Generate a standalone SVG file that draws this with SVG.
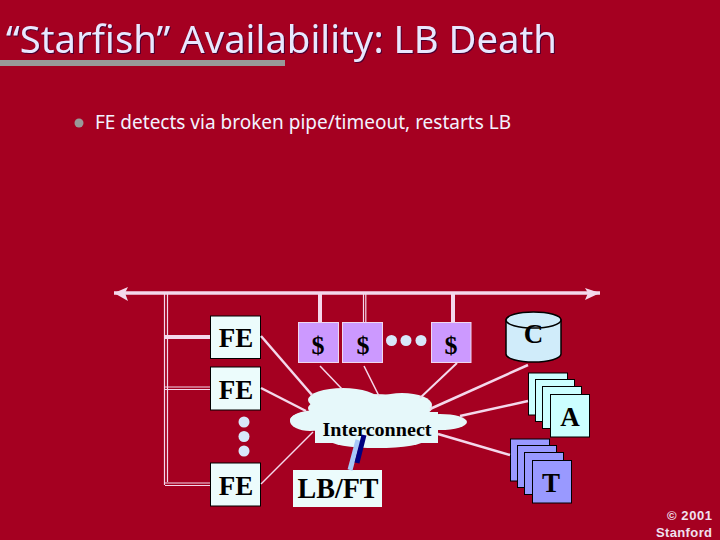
<svg xmlns="http://www.w3.org/2000/svg" width="720" height="540" viewBox="0 0 720 540">
<style>
.ttl{font-family:"Noto Sans","DejaVu Sans",sans-serif;font-size:39px;fill:#e8e8ff;filter:drop-shadow(1px 1px 0 #4a0030)}
.bul{font-family:"Noto Sans","DejaVu Sans",sans-serif;font-size:19px;fill:#f2f2ff}
.lab{font-family:"Liberation Serif",serif;font-weight:bold;fill:#000;text-anchor:middle}
.copy{font-family:"Liberation Sans",sans-serif;font-weight:bold;font-size:13px;fill:#f0e0f0}
.fe{fill:#ecfcfc;stroke:#000;stroke-width:1}
.lb{fill:#ecfcfc}
.ca{fill:#cc99ff;stroke:#f0d8f0;stroke-width:1}
.a{fill:#ccffff;stroke:#000;stroke-width:1}
.t{fill:#9999ff;stroke:#000;stroke-width:1}
.dot{fill:#d8e8fa}
.cl{fill:#e6f8fa}
.ln{stroke:#f4d8ec;fill:none}
</style>
<rect width="720" height="540" fill="#a50021"/>
<rect x="0" y="60" width="285" height="6" fill="#999999"/>
<text class="ttl" x="6" y="53" textLength="551" lengthAdjust="spacingAndGlyphs">“Starfish” Availability: LB Death</text>
<circle cx="79" cy="123" r="4.500" fill="#999999"/>
<text class="bul" x="95" y="129" textLength="416" lengthAdjust="spacingAndGlyphs">FE detects via broken pipe/timeout, restarts LB</text>
<g id="fe1"><rect class="fe" x="210.500" y="316" width="50" height="42.500"/><text class="lab" x="236" y="347" font-size="27">FE</text></g>
<g id="fe2"><rect class="fe" x="210.500" y="367" width="50" height="43"/><text class="lab" x="236" y="399" font-size="27">FE</text></g>
<g id="dots-fe" class="dot"><circle cx="244" cy="422" r="5.500"/><circle cx="244" cy="436.500" r="5.500"/><circle cx="244" cy="451" r="5.500"/></g>
<g id="fe3"><rect class="fe" x="210.500" y="463" width="50" height="43"/><text class="lab" x="236" y="495" font-size="27">FE</text></g>
<g id="cache1"><rect class="ca" x="298.500" y="322.500" width="40" height="40"/><text class="lab" x="318" y="354" font-size="26">$</text></g>
<g id="cache2"><rect class="ca" x="342.500" y="322.500" width="40" height="40"/><text class="lab" x="363" y="354" font-size="26">$</text></g>
<g id="dots-cache" class="dot"><circle cx="391.500" cy="340.500" r="5.500"/><circle cx="406" cy="340.500" r="5.500"/><circle cx="421" cy="340.500" r="5.500"/></g>
<g id="cache3"><rect class="ca" x="431.500" y="322.500" width="39.500" height="40"/><text class="lab" x="451" y="354" font-size="26">$</text></g>
<g id="cache-db">
<path d="M506 320V354A27.500 8 0 0 0 561 354V320Z" fill="#d0ecfa" stroke="#000" stroke-width="1.500"/>
<ellipse cx="533.500" cy="320" rx="27.500" ry="8" fill="#d0ecfa" stroke="#000" stroke-width="1.500"/>
<text class="lab" x="533.500" y="343" font-size="27">C</text>
</g>
<g id="interconnect">
<g class="cl">
<ellipse cx="370" cy="408" rx="62" ry="14"/>
<ellipse cx="343" cy="400" rx="35" ry="12"/>
<ellipse cx="402" cy="405" rx="30" ry="12"/>
<ellipse cx="330" cy="420" rx="40" ry="11"/>
<ellipse cx="440" cy="422" rx="27" ry="8"/>
<ellipse cx="310" cy="421" rx="20" ry="10"/>
<rect x="315" y="412" width="123" height="31"/>
<ellipse cx="377" cy="440" rx="48" ry="8"/>
</g>
<text class="lab" x="377" y="436" font-size="19" textLength="109" lengthAdjust="spacingAndGlyphs">Interconnect</text>
</g>
<g id="lbft"><rect class="lb" x="293" y="470" width="89" height="37"/><text class="lab" x="338" y="498" font-size="29" textLength="81" lengthAdjust="spacingAndGlyphs">LB/FT</text></g>
<g id="app">
<rect class="a" x="528.500" y="373" width="39" height="42"/>
<rect class="a" x="535.500" y="379.500" width="39" height="42"/>
<rect class="a" x="542.500" y="386.500" width="39" height="42"/>
<rect class="a" x="550.500" y="394.500" width="39" height="42.500"/>
<text class="lab" x="570" y="426" font-size="27">A</text>
</g>
<g id="tier">
<rect class="t" x="510.500" y="439" width="39" height="42"/>
<rect class="t" x="517.500" y="445.500" width="39" height="42"/>
<rect class="t" x="524.500" y="452.500" width="39" height="42"/>
<rect class="t" x="532.500" y="460.500" width="39" height="42.500"/>
<text class="lab" x="551" y="492" font-size="27">T</text>
</g>
<text class="copy" x="667" y="520" textLength="45">© 2001</text>
<text class="copy" x="656" y="537" textLength="56">Stanford</text>
<g id="connectors">
<g class="ln">
<path d="M114 293H600" stroke-width="3.500"/>
<path d="M164.500 293V485M167.500 293V482" stroke-width="1.200"/>
<path d="M165 337H210" stroke-width="4"/>
<path d="M165 387H210M165 389.500H210" stroke-width="1.200"/>
<path d="M165 483H210M165 485.500H210" stroke-width="1.200"/>
<path d="M320 293V322M453 293V322" stroke-width="4"/>
<path d="M363.500 293V322M365.800 293V322" stroke-width="1.200"/>
<path d="M261 336L312 395" stroke-width="2.500"/>
<path d="M261 388L306 411" stroke-width="2.500"/>
<path d="M261 484L313 432" stroke-width="1.500"/>
<path d="M320 366L342 389" stroke-width="1.500"/>
<path d="M364 366L379 396" stroke-width="1.500"/>
<path d="M457 363L420 398" stroke-width="2"/>
<path d="M528 365L430 409" stroke-width="2.500"/>
<path d="M528 401L460 416" stroke-width="2.500"/>
<path d="M510 455L438 434" stroke-width="2.500"/>
</g>
<path d="M114 293L128 287L125 293L128 301Z" fill="#f4d8ec"/>
<path d="M600 293L585 288L588 293L585 300Z" fill="#f4d8ec"/>
<path d="M350 470L358 440" stroke="#a8c8f8" stroke-width="5" fill="none"/>
<path d="M357 463L364 435" stroke="#000080" stroke-width="5" fill="none"/>
</g>
</svg>
